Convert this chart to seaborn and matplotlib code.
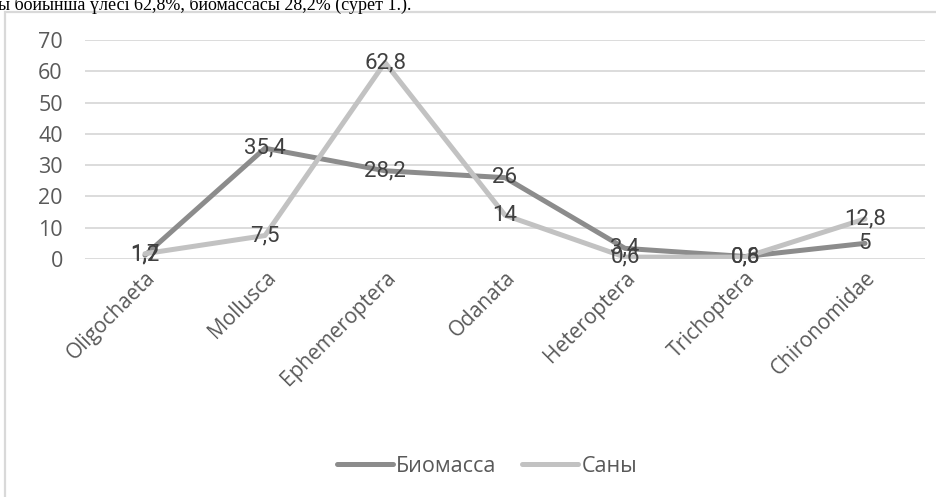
import matplotlib
matplotlib.use("Agg")
import matplotlib.pyplot as plt
import seaborn as sns
import pandas as pd
from matplotlib.patches import Rectangle
from matplotlib.lines import Line2D

categories = ["Oligochaeta", "Mollusca", "Ephemeroptera", "Odanata",
              "Heteroptera", "Trichoptera", "Chironomidae"]
biomassa = [1.2, 35.4, 28.2, 26, 3.4, 0.8, 5]
sany = [1.7, 7.5, 62.8, 14, 0.6, 0.6, 12.8]
series_names = ["Биомасса", "Саны"]
y_ticks = [0, 10, 20, 30, 40, 50, 60, 70]

sns.set_theme(style="white")
plt.rcParams['font.family'] = ['Open Sans', 'DejaVu Sans']

df = pd.DataFrame({
    "cat": categories * 2,
    "x": list(range(len(categories))) * 2,
    "val": biomassa + sany,
    "series": [series_names[0]] * len(categories) + [series_names[1]] * len(categories),
})

colors = {series_names[0]: "#8c8c8c", series_names[1]: "#c2c2c2"}

fig = plt.figure(figsize=(9.36, 4.97), dpi=100)
ax = fig.add_axes([85 / 936, 1 - 259 / 497, 840 / 936, 219 / 497])

sns.lineplot(data=df, x="x", y="val", hue="series", palette=colors,
             linewidth=3.6, ax=ax, legend=False, sort=False)

ax.set_xlim(-0.5, len(categories) - 0.5)
ax.set_ylim(0, 70)
ax.set_yticks(y_ticks)
ax.set_yticklabels([str(t) for t in y_ticks], fontsize=15.5, color="#595959")
ax.set_xticks(range(len(categories)))
ax.set_xticklabels(categories, rotation=45, ha="right", rotation_mode="anchor",
                   fontsize=15, color="#595959")
ax.tick_params(axis="y", length=0, pad=16)
ax.tick_params(axis="x", length=0, pad=6)
ax.grid(axis="y", color="#d9d9d9", linewidth=1.3)
ax.set_axisbelow(True)
for s in ax.spines.values():
    s.set_visible(False)
ax.set_xlabel("")
ax.set_ylabel("")
ax.set_facecolor("none")

def fmt(v):
    s = ("%g" % v).replace(".", ",")
    return s

for vals in (biomassa, sany):
    for i, v in enumerate(vals):
        ax.text(i, v, fmt(v), ha="center", va="center", fontsize=16,
                color="#404040", family=["Roboto", "DejaVu Sans"])

# Legend
handles = [Line2D([0], [0], color=colors[n], lw=3.6) for n in series_names]
fig.legend(handles, series_names, loc="center", bbox_to_anchor=(487 / 936, 1 - 466 / 497),
           ncol=2, frameon=False, fontsize=15.5, handlelength=2.6, handletextpad=0.15,
           columnspacing=1.2, labelcolor="#595959")

# Chart frame
fig.patches.append(Rectangle((5 / 936, -0.01), 1.0, 1 - 12 / 497 + 0.01,
                             transform=fig.transFigure, fill=False,
                             edgecolor="#d9d9d9", linewidth=1.6))

# Cropped text line at top
fig.text(-0.002, 1 - 10 / 497, "ы бойынша үлесі 62,8%, биомассасы 28,2% (сурет 1.).",
         family=["Liberation Serif", "DejaVu Serif"], fontsize=13, color="black",
         va="baseline", ha="left")

fig.savefig("out.png", dpi=100, facecolor="white")
